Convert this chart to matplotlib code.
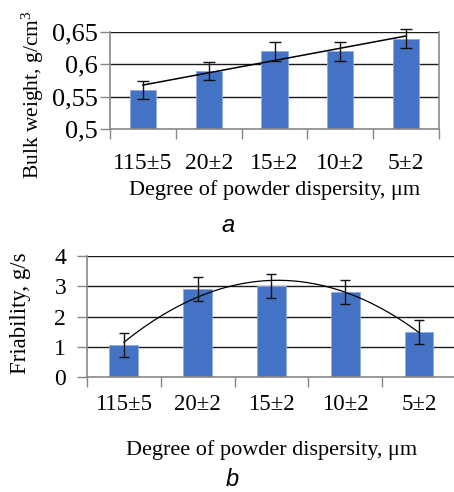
import numpy as np
import matplotlib.pyplot as plt

categories = ["115±5", "20±2", "15±2", "10±2", "5±2"]
bulk_weight = [0.56, 0.59, 0.62, 0.62, 0.64]
bulk_err = [0.014, 0.014, 0.014, 0.014, 0.014]
friability = [1.05, 2.9, 3.0, 2.8, 1.5]
fri_err = [0.4, 0.4, 0.4, 0.4, 0.4]

BLUE = "#4472C4"
GREY = "#878787"
serif = "Liberation Serif"

plt.rcParams["mathtext.fontset"] = "custom"
plt.rcParams["mathtext.rm"] = serif
plt.rcParams["mathtext.it"] = serif + ":italic"

fig = plt.figure(figsize=(4.54, 4.92), dpi=100)


def style_axes(ax, ylim, yticks, yticklabels, frame_right=True):
    x = np.arange(len(categories))
    ax.set_xlim(-0.5, len(categories) - 0.5)
    ax.set_ylim(*ylim)
    ax.set_yticks(yticks)
    ax.set_yticklabels(yticklabels, family=serif)
    for v in yticks[1:]:
        ax.axhline(v, color="#1a1a1a", lw=1.0, zorder=1)
    ax.set_xticks(x)
    ax.set_xticklabels(categories, family=serif)
    ax.set_xticks(np.arange(len(categories) + 1) - 0.5, minor=True)
    ax.tick_params(axis="x", which="major", length=0)
    ax.tick_params(axis="x", which="minor", length=7, color=GREY, width=1)
    ax.tick_params(axis="y", length=7, color=GREY, width=1, pad=2)
    for s in ["left", "bottom", "right"]:
        ax.spines[s].set_color(GREY)
        ax.spines[s].set_linewidth(1.2)
    ax.spines["top"].set_visible(False)
    ax.spines["right"].set_visible(frame_right)
    return x


# panel a
ax1 = fig.add_axes([0.2423, 0.7378, 0.7247, 0.197])
x = style_axes(ax1, (0.5, 0.65), [0.5, 0.55, 0.6, 0.65],
               ["0,5", "0,55", "0,6", "0,65"])
ax1.bar(x, bulk_weight, width=0.4, color=BLUE, edgecolor="#8eaadb",
        linewidth=0.6, zorder=2)
ax1.errorbar(x, bulk_weight, yerr=bulk_err, fmt="none", ecolor="#111111",
             elinewidth=1.0, capsize=4, capthick=1.0, zorder=4, clip_on=False)
k1 = np.polyfit(x, bulk_weight, 1)
xs = np.linspace(0, 4, 50)
ax1.plot(xs, np.polyval(k1, xs), color="black", lw=1.1, zorder=3)
ax1.tick_params(axis="y", labelsize=19)
ax1.tick_params(axis="x", which="major", labelsize=17, pad=17)
fig.text(33 / 454, 1 - 95 / 492, "Bulk weight, g/cm$^3$", family=serif,
         fontsize=15.5, rotation=90, ha="center", va="center")
ax1.set_xlabel("Degree of powder dispersity, μm", family=serif, fontsize=16,
               labelpad=5)
fig.text(0.503, 1 - 225 / 492, "a", ha="center", va="center", fontsize=17,
         style="italic", family="Liberation Sans")

# panel b
ax2 = fig.add_axes([0.1916, 0.2337, 0.8128, 0.246])
x = style_axes(ax2, (0, 4), [0, 1, 2, 3, 4], ["0", "1", "2", "3", "4"],
               frame_right=False)
ax2.bar(x, friability, width=0.39, color=BLUE, edgecolor="#8eaadb",
        linewidth=0.6, zorder=2)
ax2.errorbar(x, friability, yerr=fri_err, fmt="none", ecolor="#111111",
             elinewidth=1.0, capsize=3.5, capthick=1.0, zorder=4)
k2 = np.polyfit(x, friability, 2)
ax2.plot(xs, np.polyval(k2, xs), color="black", lw=0.9, zorder=3)
ax2.tick_params(axis="y", labelsize=17, pad=8)
ax2.tick_params(axis="x", which="major", labelsize=16.5, pad=12)
fig.text(21 / 454, 1 - 313 / 492, "Friability, g/s", family=serif,
         fontsize=16.5, rotation=90, ha="center", va="center")
ax2.set_xlabel("Degree of powder dispersity, μm", family=serif, fontsize=16,
               labelpad=18)
fig.text(0.511, 1 - 479 / 492, "b", ha="center", va="center", fontsize=17,
         style="italic", family="Liberation Sans")

fig.savefig("out.png", dpi=100)
